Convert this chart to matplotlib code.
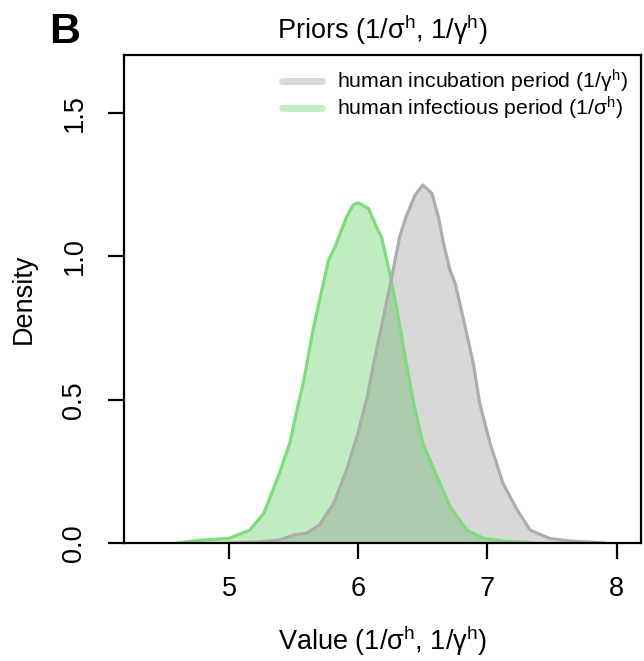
import numpy as np
import matplotlib.pyplot as plt

plt.rcParams["font.family"] = ["Liberation Sans", "DejaVu Sans"]
plt.rcParams["mathtext.fontset"] = "custom"
plt.rcParams["mathtext.rm"] = "Liberation Sans"
plt.rcParams["mathtext.it"] = "Liberation Sans:italic"

# densita': periodo infettivo (1/sigma^h)
infect_x = [4.60, 4.78, 5.00, 5.16, 5.27, 5.39, 5.47, 5.52, 5.58, 5.65, 5.73,
            5.77, 5.82, 5.86, 5.91, 5.96, 6.00, 6.08, 6.14, 6.18, 6.25, 6.30,
            6.37, 6.43, 6.50, 6.61, 6.71, 6.84, 6.97, 7.12, 7.35]
infect_y = [0.000, 0.010, 0.016, 0.045, 0.104, 0.243, 0.348, 0.452, 0.569, 0.743, 0.906,
            0.987, 1.033, 1.080, 1.138, 1.179, 1.187, 1.167, 1.103, 1.068, 0.929, 0.813,
            0.631, 0.487, 0.348, 0.231, 0.127, 0.045, 0.016, 0.007, 0.000]

# periodo di incubazione (1/gamma^h)
incub_x = [5.00, 5.20, 5.39, 5.50, 5.60, 5.70, 5.81, 5.91, 5.99, 6.07, 6.12,
           6.19, 6.26, 6.32, 6.37, 6.44, 6.50, 6.57, 6.62, 6.66, 6.71, 6.75,
           6.81, 6.89, 6.94, 7.02, 7.12, 7.23, 7.33, 7.48, 7.64, 7.90]
incub_y = [0.000, 0.003, 0.010, 0.028, 0.034, 0.063, 0.138, 0.255, 0.371, 0.510, 0.627,
           0.778, 0.929, 1.068, 1.138, 1.214, 1.249, 1.220, 1.138, 1.045, 0.952, 0.906,
           0.789, 0.627, 0.487, 0.348, 0.208, 0.115, 0.045, 0.016, 0.007, 0.000]

x_ticks = [5, 6, 7, 8]
y_ticks = [0.0, 0.5, 1.0, 1.5]

green_fill = (119 / 255, 215 / 255, 119 / 255)
green_line = (125 / 255, 220 / 255, 125 / 255)
grey_fill = (0.5, 0.5, 0.5)
grey_line = (0.68, 0.68, 0.68)

fig = plt.figure(figsize=(6.44, 6.61), dpi=100)
ax = fig.add_axes([0.193, 0.1785, 0.802, 0.738])

ax.fill_between(infect_x, infect_y, 0, color=green_fill, alpha=0.45, lw=0)
ax.plot(infect_x, infect_y, color=green_line, lw=2.3, solid_joinstyle="round")
ax.fill_between(incub_x, incub_y, 0, color=grey_fill, alpha=0.3, lw=0)
ax.plot(incub_x, incub_y, color=grey_line, lw=2.3, solid_joinstyle="round")

ax.set_xlim(4.19, 8.186)
ax.set_ylim(0, 1.702)
ax.set_xticks(x_ticks)
ax.set_xticklabels([str(v) for v in x_ticks])
ax.set_yticks(y_ticks)
ax.set_yticklabels([f"{v:.1f}" for v in y_ticks], rotation=90, va="center")
ax.tick_params(direction="out", length=11.5, width=1.6, labelsize=19.5, pad=12)
ax.tick_params(axis="y", pad=15)

for spine in ax.spines.values():
    spine.set_linewidth(1.6)
    spine.set_color("black")

ax.set_xlabel(r"Value (1/σ$^{\mathrm{h}}$, 1/γ$^{\mathrm{h}}$)", fontsize=19.5, labelpad=16)
ax.set_ylabel("Density", fontsize=19.5, labelpad=18)
ax.set_title(r"Priors (1/σ$^{\mathrm{h}}$, 1/γ$^{\mathrm{h}}$)", fontsize=19.5, pad=12)

# legenda
h1, = ax.plot([], [], color=(0.85, 0.85, 0.85), lw=5, solid_capstyle="round")
h2, = ax.plot([], [], color=(0.76, 0.93, 0.76), lw=5, solid_capstyle="round")
ax.legend([h1, h2],
          [r"human incubation period (1/γ$^{\mathrm{h}}$)",
           r"human infectious period (1/σ$^{\mathrm{h}}$)"],
          loc="upper right", frameon=False, fontsize=15.3, handlelength=1.9,
          handletextpad=0.7, labelspacing=0.0, borderaxespad=0.05,
          borderpad=0.55)

fig.text(0.077, 0.952, "B", fontsize=31, fontweight="bold", va="center", ha="left")

fig.savefig("out.png", dpi=100)
